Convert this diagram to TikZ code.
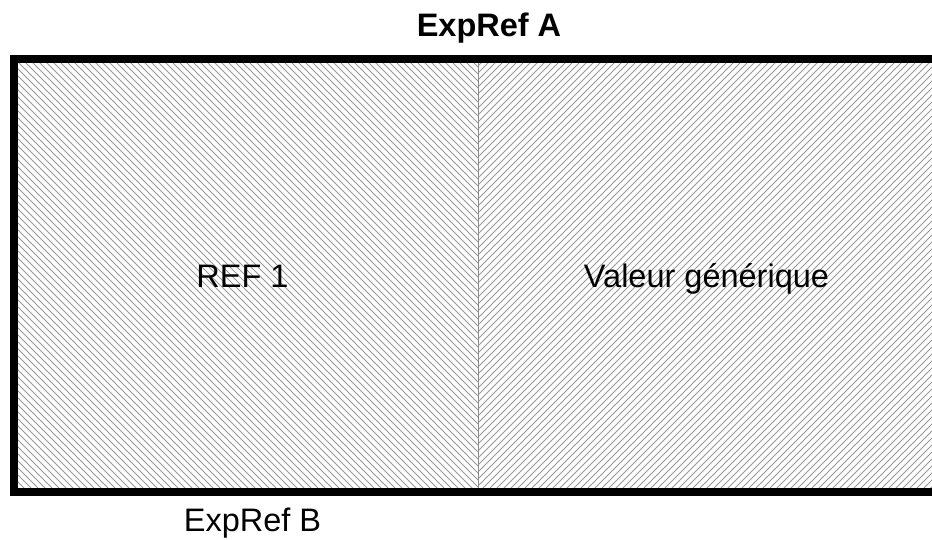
\documentclass[tikz,border=0pt]{standalone}
\usepackage{fontspec}
\setmainfont{Liberation Sans}
\begin{document}
\begin{tikzpicture}[x=1pt,y=-1pt,
  hatch/.style={draw=black!40,line width=0.9pt},
  frame/.style={draw=black,line width=7.7pt},
  divider/.style={draw=black!45,line width=0.8pt},
  lbl/.style={inner sep=0pt,anchor=base,font=\fontsize{32.5}{38}\selectfont},
  title/.style={lbl,font=\fontsize{32.5}{38}\selectfont\bfseries}]
\useasboundingbox (0,0) rectangle (932,539);
\clip (0,0) rectangle (932,539);
% hatching left (\\\)
\begin{scope}
  \clip (14,59) rectangle (478,492);
  \foreach \i in {-440,-433,...,480} {
    \draw[hatch] (\i,59) -- (\i+433,492);
  }
\end{scope}
% hatching right (///)
\begin{scope}
  \clip (478,59) rectangle (945,492);
  \foreach \i in {478,485,...,1400} {
    \draw[hatch] (\i,59) -- (\i-433,492);
  }
\end{scope}
\coordinate (dtop) at (478,59);
\coordinate (dbot) at (478,492);
\draw[divider] (dtop) -- (dbot);
\draw[frame] (945,59) -- (14,59) -- (14,492) -- (945,492);
\node[title] (ta) at (489,36.5) {ExpRef A};
\node[lbl] (tb) at (252.5,531.5) {ExpRef B};
\node[lbl] (r1) at (242.5,287) {REF 1};
\node[lbl] (vg) at (706.5,287) {Valeur générique};
\end{tikzpicture}
\end{document}
